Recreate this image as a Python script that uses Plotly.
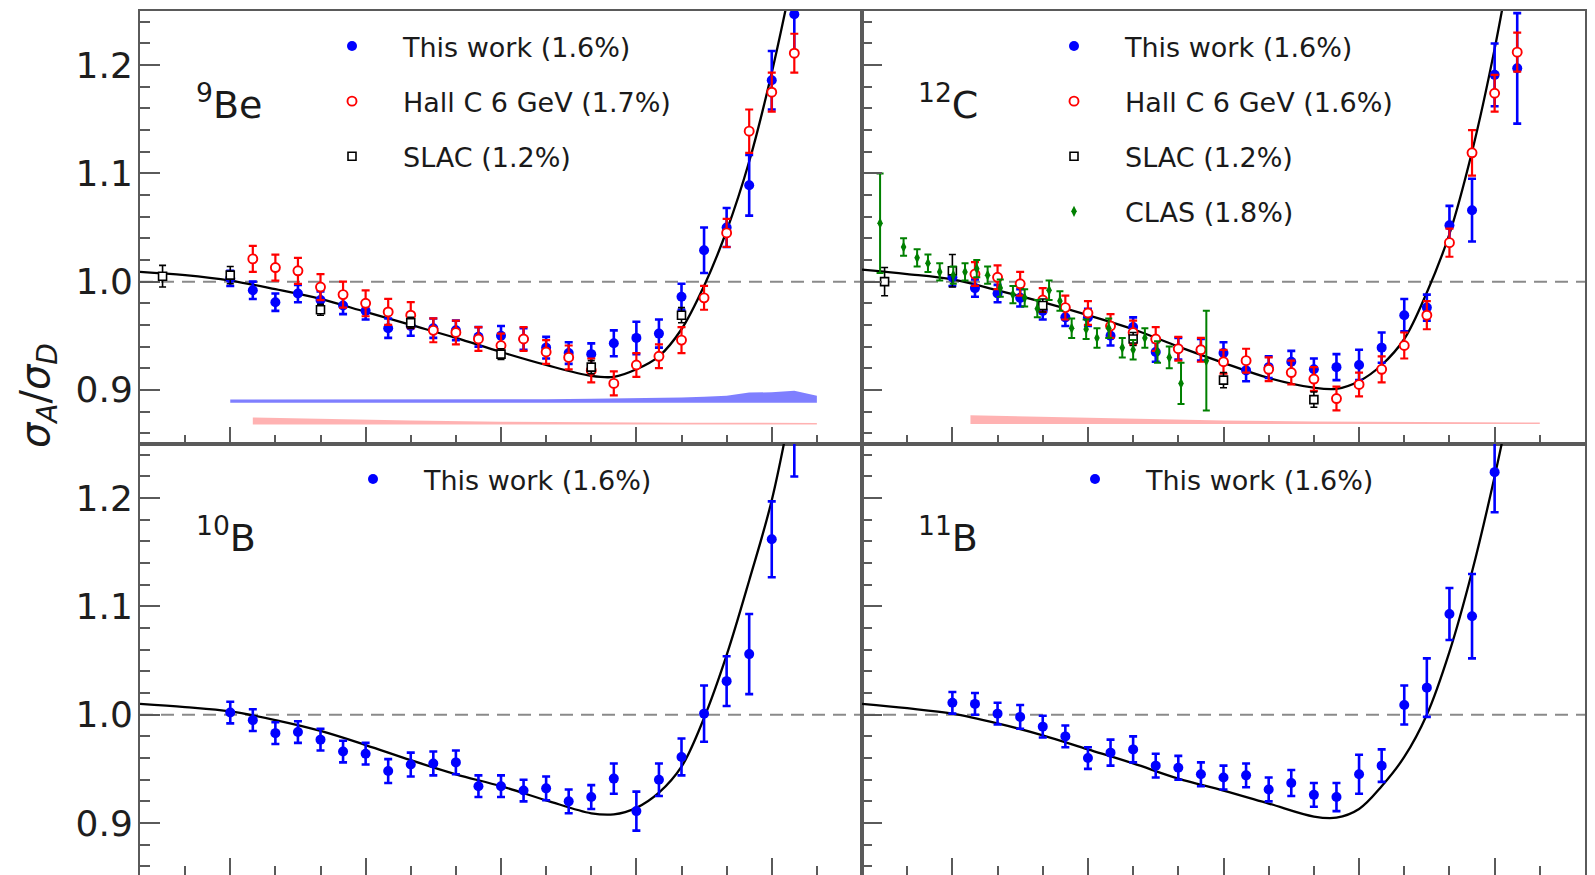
import plotly.graph_objects as go

# ---------------- data ----------------
# smooth fit curves (ratio vs Bjorken x)
fit_x = [0.15, 0.20, 0.25, 0.30, 0.35, 0.40, 0.45, 0.50, 0.55, 0.60, 0.65, 0.675,
         0.70, 0.725, 0.75, 0.775, 0.80, 0.825, 0.85, 0.875]
fit_be = [1.009, 1.006, 1.001, 0.993, 0.984, 0.972, 0.960, 0.948, 0.935, 0.923, 0.913, 0.912,
          0.919, 0.931, 0.956, 0.996, 1.047, 1.111, 1.193, 1.290]
fit_c = [1.011, 1.007, 1.002, 0.992, 0.981, 0.969, 0.956, 0.940, 0.925, 0.911, 0.902, 0.901,
         0.908, 0.923, 0.947, 0.990, 1.044, 1.120, 1.215, 1.330]
fit_b10 = [1.010, 1.007, 1.003, 0.995, 0.985, 0.972, 0.958, 0.945, 0.934, 0.921, 0.909, 0.908,
           0.914, 0.928, 0.952, 0.997, 1.055, 1.124, 1.198, 1.300]
fit_b11 = [1.010, 1.006, 1.001, 0.992, 0.981, 0.968, 0.955, 0.941, 0.930, 0.918, 0.906, 0.905,
           0.913, 0.934, 0.961, 1.000, 1.058, 1.132, 1.220, 1.320]

# This work
x_jlab = [0.25, 0.275, 0.30, 0.325, 0.35, 0.375, 0.40, 0.425, 0.45, 0.475, 0.50, 0.525, 0.55,
          0.575, 0.60, 0.625, 0.65, 0.675, 0.70, 0.725, 0.75, 0.775, 0.80, 0.825, 0.85, 0.875]
be_jlab = [1.003, 0.992, 0.981, 0.989, 0.983, 0.978, 0.973, 0.957, 0.959, 0.957, 0.955, 0.949, 0.950,
           0.947, 0.939, 0.934, 0.933, 0.943, 0.948, 0.952, 0.986, 1.029, 1.050, 1.089, 1.186, 1.247]
be_jlab_err = [0.007, 0.008, 0.008, 0.008, 0.008, 0.008, 0.008, 0.009, 0.009, 0.009, 0.009, 0.009, 0.009,
               0.010, 0.010, 0.010, 0.010, 0.012, 0.015, 0.013, 0.012, 0.021, 0.018, 0.028, 0.027, 0.035]
c_jlab = [1.004, 0.994, 0.989, 0.985, 0.973, 0.967, 0.967, 0.950, 0.958, 0.935, 0.938, 0.937, 0.934,
          0.918, 0.921, 0.926, 0.919, 0.921, 0.923, 0.939, 0.969, 0.976, 1.052, 1.066, 1.191, 1.197]
c_jlab_err = [0.008, 0.008, 0.008, 0.008, 0.008, 0.008, 0.008, 0.009, 0.009, 0.009, 0.010, 0.010, 0.010,
              0.010, 0.010, 0.010, 0.010, 0.012, 0.014, 0.014, 0.015, 0.012, 0.018, 0.029, 0.029, 0.051]
b10_jlab = [1.002, 0.995, 0.983, 0.984, 0.977, 0.966, 0.964, 0.948, 0.954, 0.955, 0.956, 0.934, 0.934,
            0.930, 0.932, 0.920, 0.924, 0.941, 0.911, 0.940, 0.961, 1.001, 1.031, 1.056, 1.162, 1.262]
b10_jlab_err = [0.010, 0.010, 0.010, 0.010, 0.010, 0.010, 0.010, 0.011, 0.011, 0.011, 0.011, 0.010, 0.010,
                0.010, 0.011, 0.011, 0.011, 0.014, 0.018, 0.015, 0.017, 0.026, 0.023, 0.037, 0.035, 0.042]
x_b11 = [0.25, 0.275, 0.30, 0.325, 0.35, 0.375, 0.40, 0.425, 0.45, 0.475, 0.50, 0.525, 0.55,
         0.575, 0.60, 0.625, 0.65, 0.675, 0.70, 0.725, 0.75, 0.775, 0.80, 0.825, 0.85]
b11_jlab = [1.011, 1.010, 1.001, 0.998, 0.989, 0.980, 0.960, 0.965, 0.968, 0.953, 0.951, 0.945, 0.942,
            0.944, 0.931, 0.937, 0.926, 0.924, 0.945, 0.953, 1.009, 1.025, 1.093, 1.091, 1.224]
b11_jlab_err = [0.010, 0.010, 0.010, 0.011, 0.010, 0.010, 0.010, 0.012, 0.012, 0.011, 0.011, 0.011, 0.011,
                0.011, 0.011, 0.012, 0.011, 0.013, 0.018, 0.015, 0.018, 0.027, 0.024, 0.039, 0.037]

# Hall C 6 GeV
x_hallc = [0.275, 0.30, 0.325, 0.35, 0.375, 0.40, 0.425, 0.45, 0.475, 0.50, 0.525, 0.55, 0.575,
           0.60, 0.625, 0.65, 0.675, 0.70, 0.725, 0.75, 0.775, 0.80, 0.825, 0.85, 0.875]
be_hallc = [1.021, 1.013, 1.010, 0.995, 0.988, 0.980, 0.972, 0.969, 0.955, 0.953, 0.947, 0.941, 0.947,
            0.935, 0.930, 0.918, 0.906, 0.923, 0.931, 0.946, 0.985, 1.045, 1.139, 1.175, 1.211]
be_hallc_err = [0.012, 0.012, 0.012, 0.012, 0.012, 0.012, 0.012, 0.012, 0.011, 0.011, 0.011, 0.011, 0.011,
                0.011, 0.011, 0.011, 0.011, 0.011, 0.011, 0.012, 0.011, 0.013, 0.020, 0.018, 0.018]
c_hallc = [1.007, 1.004, 0.998, 0.983, 0.976, 0.971, 0.959, 0.953, 0.947, 0.938, 0.937, 0.926, 0.927,
           0.919, 0.916, 0.910, 0.892, 0.905, 0.919, 0.941, 0.969, 1.036, 1.119, 1.174, 1.212]
c_hallc_err = [0.011, 0.011, 0.011, 0.011, 0.011, 0.011, 0.011, 0.011, 0.011, 0.011, 0.011, 0.011, 0.011,
               0.011, 0.011, 0.011, 0.011, 0.011, 0.012, 0.012, 0.013, 0.013, 0.021, 0.017, 0.018]

# SLAC
x_slac = [0.175, 0.25, 0.35, 0.45, 0.55, 0.65, 0.75]
be_slac = [1.005, 1.006, 0.974, 0.962, 0.933, 0.921, 0.969]
be_slac_err = [0.010, 0.008, 0.005, 0.005, 0.005, 0.006, 0.007]
c_slac = [1.000, 1.010, 0.978, 0.947, 0.909, 0.891]
c_slac_err = [0.013, 0.015, 0.006, 0.006, 0.007, 0.007]

# CLAS
x_clas = [0.170, 0.196, 0.211, 0.223, 0.236, 0.251, 0.264, 0.277, 0.289, 0.303, 0.317, 0.330, 0.344,
          0.357, 0.369, 0.382, 0.398, 0.410, 0.423, 0.438, 0.450, 0.463, 0.477, 0.490, 0.503, 0.531]
c_clas = [1.054, 1.032, 1.022, 1.017, 1.009, 1.006, 1.009, 1.012, 1.006, 0.994, 0.988, 0.985, 0.975,
          0.992, 0.982, 0.957, 0.956, 0.948, 0.957, 0.939, 0.937, 0.948, 0.935, 0.930, 0.906, 0.927]
c_clas_err = [0.046, 0.008, 0.008, 0.008, 0.008, 0.008, 0.008, 0.008, 0.008, 0.008, 0.008, 0.008, 0.008,
              0.009, 0.009, 0.009, 0.009, 0.009, 0.009, 0.009, 0.009, 0.009, 0.010, 0.010, 0.019, 0.046]

# systematic bands
band_be_x = [0.25, 0.30, 0.35, 0.40, 0.45, 0.50, 0.55, 0.60, 0.65, 0.70, 0.725, 0.75, 0.775, 0.80,
             0.825, 0.85, 0.875, 0.90]
band_be_lo = [0.888, 0.888, 0.888, 0.888, 0.888, 0.888, 0.888, 0.888, 0.888, 0.888, 0.888, 0.888,
              0.888, 0.888, 0.888, 0.888, 0.888, 0.888]
band_be_hi = [0.8910, 0.8910, 0.8910, 0.8910, 0.8911, 0.8912, 0.8913, 0.8914, 0.8917, 0.8921, 0.8925,
              0.8930, 0.8936, 0.8945, 0.8975, 0.8978, 0.8992, 0.8945]
band_hc_be_x = [0.275, 0.35, 0.45, 0.55, 0.65, 0.75, 0.90]
band_hc_be_lo = [0.868, 0.868, 0.868, 0.868, 0.868, 0.868, 0.868]
band_hc_be_hi = [0.8745, 0.8732, 0.8718, 0.8706, 0.8700, 0.8697, 0.8694]
band_hc_c_x = [0.27, 0.35, 0.45, 0.55, 0.65, 0.75, 0.90]
band_hc_c_lo = [0.8685, 0.8685, 0.8685, 0.8685, 0.8685, 0.8685, 0.8685]
band_hc_c_hi = [0.8766, 0.8750, 0.8732, 0.8716, 0.8708, 0.8703, 0.8698]

LABEL_JLAB = "This work (1.6%)"
LABEL_HALLC_BE = "Hall C 6 GeV (1.7%)"
LABEL_HALLC_C = "Hall C 6 GeV (1.6%)"
LABEL_SLAC = "SLAC (1.2%)"
LABEL_CLAS = "CLAS (1.8%)"

# ---------------- styling ----------------
W, H = 1595, 875
FONT = "DejaVu Sans"
AX = "#5a5a5a"
BLUE, RED, BLACK, GREEN = "#0000ff", "#ff0000", "#000000", "#008000"

fig = go.Figure()


def add_band(x, lo, hi, color, xa, ya):
    fig.add_trace(go.Scatter(x=x, y=lo, mode="lines", line=dict(width=0), hoverinfo="skip",
                             showlegend=False, xaxis=xa, yaxis=ya))
    fig.add_trace(go.Scatter(x=x, y=hi, mode="lines", line=dict(width=0), fill="tonexty",
                             fillcolor=color, hoverinfo="skip", showlegend=False, xaxis=xa, yaxis=ya))


def add_fit(y, xa, ya):
    fig.add_trace(go.Scatter(x=fit_x, y=y, mode="lines", line=dict(color="black", width=2.3, shape="spline",
                                                                  smoothing=1.0),
                             showlegend=False, xaxis=xa, yaxis=ya))


def add_points(x, y, err, name, kind, xa, ya, legend):
    if kind == "jlab":
        marker = dict(symbol="circle", size=10, color=BLUE, line=dict(width=0))
        eb = dict(type="data", array=err, color=BLUE, thickness=2.6, width=4)
    elif kind == "hallc":
        marker = dict(symbol="circle", size=9, color="white", line=dict(width=1.9, color=RED))
        eb = dict(type="data", array=err, color=RED, thickness=2.2, width=4)
    elif kind == "slac":
        marker = dict(symbol="square", size=8, color="white", line=dict(width=1.6, color=BLACK))
        eb = dict(type="data", array=err, color=BLACK, thickness=1.6, width=3.5)
    else:
        marker = dict(symbol="diamond-tall", size=8, color=GREEN, line=dict(width=0))
        eb = dict(type="data", array=err, color=GREEN, thickness=2.0, width=3.5)
    fig.add_trace(go.Scatter(x=x, y=y, mode="markers", name=name, marker=marker, error_y=eb,
                             xaxis=xa, yaxis=ya, legend=legend, legendgroup=name + legend,
                             showlegend=True))


# Be-9 (top left)
add_band(band_be_x, band_be_lo, band_be_hi, "rgba(0,0,255,0.5)", "x", "y")
add_band(band_hc_be_x, band_hc_be_lo, band_hc_be_hi, "rgba(255,0,0,0.3)", "x", "y")
add_fit(fit_be, "x", "y")
add_points(x_jlab, be_jlab, be_jlab_err, LABEL_JLAB, "jlab", "x", "y", "legend")
add_points(x_hallc, be_hallc, be_hallc_err, LABEL_HALLC_BE, "hallc", "x", "y", "legend")
add_points(x_slac, be_slac, be_slac_err, LABEL_SLAC, "slac", "x", "y", "legend")

# C-12 (top right)
add_band(band_hc_c_x, band_hc_c_lo, band_hc_c_hi, "rgba(255,0,0,0.3)", "x2", "y2")
add_fit(fit_c, "x2", "y2")
add_points(x_jlab, c_jlab, c_jlab_err, LABEL_JLAB, "jlab", "x2", "y2", "legend2")
add_points(x_hallc, c_hallc, c_hallc_err, LABEL_HALLC_C, "hallc", "x2", "y2", "legend2")
add_points(x_slac[:6], c_slac, c_slac_err, LABEL_SLAC, "slac", "x2", "y2", "legend2")
add_points(x_clas, c_clas, c_clas_err, LABEL_CLAS, "clas", "x2", "y2", "legend2")

# B-10 (bottom left)
add_fit(fit_b10, "x3", "y3")
add_points(x_jlab, b10_jlab, b10_jlab_err, LABEL_JLAB, "jlab", "x3", "y3", "legend3")

# B-11 (bottom right)
add_fit(fit_b11, "x4", "y4")
add_points(x_b11, b11_jlab, b11_jlab_err, LABEL_JLAB, "jlab", "x4", "y4", "legend4")

# ---------------- axes ----------------
xl = [140 / W, 862 / W]
xr = [862 / W, 1585 / W]
yt = [1 - 444 / H, 1 - 11 / H]
yb = [0.0, 1 - 444 / H]


def xaxis(domain, anchor):
    return dict(domain=domain, anchor=anchor, range=[0.15, 0.95], showline=True, linecolor=AX,
                linewidth=2, mirror=True, ticks="inside", tickmode="linear", tick0=0.25, dtick=0.15,
                ticklen=17, tickwidth=1.6, tickcolor=AX, showticklabels=False, showgrid=False,
                zeroline=False,
                minor=dict(ticks="inside", tickmode="linear", tick0=0.15, dtick=0.05, ticklen=9,
                           tickwidth=1.6, tickcolor=AX, showgrid=False))


def yaxis(domain, anchor, rng, labels):
    return dict(domain=domain, anchor=anchor, range=rng, showline=True, linecolor=AX, linewidth=2,
                mirror=True, ticks="inside", tickmode="linear", tick0=0.9, dtick=0.1, ticklen=20,
                tickwidth=1.6, tickcolor=AX, showticklabels=labels, tickformat=".1f",
                tickfont=dict(family=FONT, size=36, color="#1e1e1e"), ticklabelstandoff=-2,
                showgrid=False, zeroline=False,
                minor=dict(ticks="inside", tickmode="linear", tick0=0.9, dtick=0.02, ticklen=10,
                           tickwidth=1.6, tickcolor=AX, showgrid=False))


top_range = [0.85, 1.25]
bot_range = [0.852, 1.25]

fig.update_layout(
    xaxis=xaxis(xl, "y"), yaxis=yaxis(yt, "x", top_range, True),
    xaxis2=xaxis(xr, "y2"), yaxis2=yaxis(yt, "x2", top_range, False),
    xaxis3=xaxis(xl, "y3"), yaxis3=yaxis(yb, "x3", bot_range, True),
    xaxis4=xaxis(xr, "y4"), yaxis4=yaxis(yb, "x4", bot_range, False),
)

# unity reference line
for xa, ya in [("x", "y"), ("x2", "y2"), ("x3", "y3"), ("x4", "y4")]:
    fig.add_shape(type="line", xref=f"{xa} domain", yref=ya, x0=0, x1=1, y0=1.0, y1=1.0,
                  line=dict(color="#8a8a8a", width=2, dash="13px,8px"), layer="below")

# nucleus labels
nuclei = [("<sup>9</sup>Be", "x", "y"), ("<sup>12</sup>C", "x2", "y2"),
          ("<sup>10</sup>B", "x3", "y3"), ("<sup>11</sup>B", "x4", "y4")]
for text, xa, ya in nuclei:
    fig.add_annotation(text=text, xref=f"{xa} domain", yref=f"{ya} domain", x=0.075, y=0.79,
                       xanchor="left", yanchor="middle", showarrow=False,
                       font=dict(family=FONT, size=38, color="#1a1a1a"))

# y-axis title
fig.add_annotation(text="<i>σ</i><sub><i>A</i></sub>/<i>σ</i><sub><i>D</i></sub>", xref="paper", yref="paper",
                   x=38 / W, y=1 - 396 / H, textangle=-90, showarrow=False, xanchor="center",
                   yanchor="middle", font=dict(family=FONT, size=40, color="#1a1a1a"))

# legends
def legend(x_px, y_px):
    return dict(x=x_px / W, y=1 - y_px / H, xanchor="left", yanchor="top", bgcolor="rgba(0,0,0,0)",
                borderwidth=0, itemwidth=92, tracegroupgap=17, traceorder="grouped",
                font=dict(family=FONT, size=27, color="#1a1a1a"))


fig.update_layout(
    legend=legend(301, 22),
    legend2=legend(1023, 22),
    legend3=legend(322, 455),
    legend4=legend(1044, 455),
    width=W, height=H, margin=dict(l=0, r=0, t=0, b=0),
    paper_bgcolor="white", plot_bgcolor="white",
    font=dict(family=FONT),
)

fig.write_html("out.html")
